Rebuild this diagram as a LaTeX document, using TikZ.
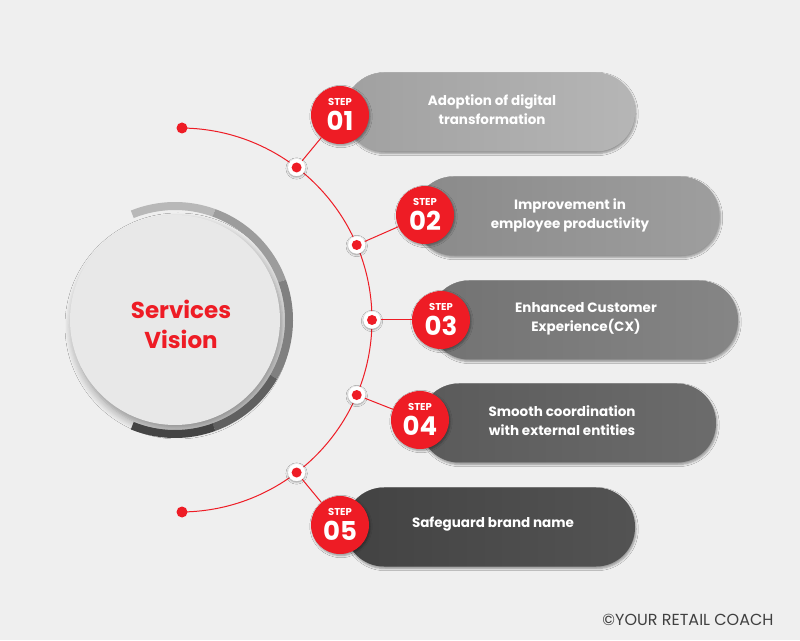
\documentclass[tikz,border=0pt]{standalone}
\usepackage{fontspec}
\setmainfont{Poppins}
\usetikzlibrary{shadows,shadows.blur}
\definecolor{bg}{HTML}{EFEFEF}
\definecolor{vred}{HTML}{EE1C25}
\definecolor{pA}{HTML}{B2B2B2}
\definecolor{pB}{HTML}{999999}
\definecolor{pC}{HTML}{7F7F7F}
\definecolor{pD}{HTML}{646464}
\definecolor{pE}{HTML}{4A4A4A}
\begin{document}
\begin{tikzpicture}[x=1pt,y=1pt,
  pill/.style={rounded corners=39pt,minimum width=290pt,minimum height=79pt,inner sep=0pt,blur shadow={shadow blur steps=5,shadow xshift=1pt,shadow yshift=-2pt}},
  ptext/.style={text=white,font=\bfseries\fontsize{13.5}{19}\selectfont,align=center},
  stepc/.style={circle,fill=vred,minimum size=58pt,inner sep=0pt,blur shadow={shadow blur steps=5,shadow xshift=1pt,shadow yshift=-1.5pt}},
  steplab/.style={text=white,font=\bfseries\fontsize{10}{10}\selectfont,inner sep=0pt},
  stepnum/.style={text=white,font=\bfseries\fontsize{26}{26}\selectfont,inner sep=0pt},
  jdot/.style={circle,fill=white,draw=white,minimum size=17pt,inner sep=0pt,path picture={\fill[vred] (path picture bounding box.center) circle (5pt);},blur shadow={shadow blur steps=4,shadow xshift=0pt,shadow yshift=-1pt}},
  edot/.style={circle,fill=vred,minimum size=11pt,inner sep=0pt},
  conn/.style={vred,line width=1pt}]
\fill[bg] (0,0) rectangle (800,640);
\useasboundingbox (0,0) rectangle (800,640);
% centre circle
\node[circle,fill=black!9,minimum size=210pt,inner sep=0pt,blur shadow={shadow blur steps=8,shadow xshift=3pt,shadow yshift=-6pt,shadow blur radius=8pt}] (core) at (175,320) {};
\foreach \a/\b/\c in {112/70/B8B8B8,70/20/9C9C9C,20/-30/808080,-30/-70/606060,-70/-112/444444}{
  \definecolor{rc}{HTML}{\c}
  \draw[rc,line width=8pt] ([shift={(\a:114pt)}]175,320) arc[start angle=\a,end angle=\b,radius=114pt];
}
\node[text=vred,font=\bfseries\fontsize{23}{30}\selectfont,align=center] (title) at (181,316) {Services\\Vision};
% pills
\node[pill,left color=pA!90!black,right color=pA!95!white] (p1) at (490,528) {};
\node[pill,left color=pB!90!black,right color=pB!95!white,minimum width=305pt] (p2) at (567,424) {};
\node[pill,left color=pC!90!black,right color=pC!95!white,minimum width=308pt] (p3) at (584,320) {};
\node[pill,left color=pD!90!black,right color=pD!95!white,minimum width=296pt] (p4) at (568,217) {};
\node[pill,left color=pE!90!black,right color=pE!95!white] (p5) at (490,113) {};
\node[ptext] (t1) at (492,530) {Adoption of digital\\transformation};
\node[ptext] (t2) at (570,425) {Improvement in\\employee productivity};
\node[ptext] (t3) at (586,321) {Enhanced Customer\\Experience(CX)};
\node[ptext] (t4) at (562,219) {Smooth coordination\\with external entities};
\node[ptext] (t5) at (493,116) {Safeguard brand name};
% arc
\draw[conn] (180,320) ++(89.4:192pt) arc[start angle=89.4,end angle=-89.4,radius=192pt];
\node[edot] (e1) at (182,512) {};
\node[edot] (e2) at (182,128) {};
\coordinate (c0) at (180,320);
\node[jdot] (j1) at ([shift={(52.6:192pt)}]c0) {};
\node[jdot] (j2) at ([shift={(23:192pt)}]c0) {};
\node[jdot] (j3) at ([shift={(0:192pt)}]c0) {};
\node[jdot] (j4) at ([shift={(-23:192pt)}]c0) {};
\node[jdot] (j5) at ([shift={(-52.6:192pt)}]c0) {};
\foreach \i/\x/\y in {1/340/525,2/425/425,3/441/320,4/420/220,5/340/115}{
  \node[stepc] (s\i) at (\x,\y) {};
  \node[steplab] (l\i) at (\x,\y+13) {STEP};
  \node[stepnum] (n\i) at (\x,\y-6) {0\i};
  \draw[conn] (j\i) -- (s\i);
}
\node[text=black!75,font=\fontsize{16}{18}\selectfont] (footer) at (688,20) {©YOUR RETAIL COACH};
\end{tikzpicture}
\end{document}
